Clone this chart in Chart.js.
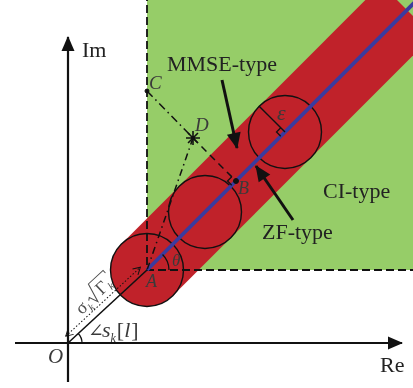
<!DOCTYPE html>
<html>
<head>
<meta charset="utf-8">
<script src="https://cdn.jsdelivr.net/npm/chart.js@4.4.0/dist/chart.umd.min.js"></script>
<style>
  html, body { margin: 0; padding: 0; background: #fff; }
  #wrap { width: 413px; height: 388px; position: relative; }
</style>
</head>
<body>
<div id="wrap"><canvas id="diagram"></canvas></div>
<script>
// complex plane with origin O, one unit = one pixel
var pointO = [0, 0];
var pointA = [79, 73];
var pointB = [168, 162];
var pointC = [79, 252];
var pointD = [125, 205];
var epsilon = 36.5;
var circleCenters = [[79, 73], [137, 131], [217, 211]];
var ciRegion = [[79, 73], [350, 73], [350, 350], [79, 350]];
var ciBoundary = [[79, 350], [79, 73], [350, 73]];
var redBand = [[53.2, 98.8], [313.2, 358.8], [364.8, 307.2], [104.8, 47.2]];
var zfLine = [[79, 73], [350, 344]];
var reAxis = [[-53, 0], [334, 0]];
var imAxis = [[0, -39], [0, 306]];
var mmseArrow = [[154, 263], [169, 195]];
var zfArrow = [[225, 123], [188, 177]];
var epsRadius = [[217, 211], [191.2, 236.8]];

var GREEN = '#96cd68', RED = '#c0222a', BLUE = '#3b3b9e', INK = '#111';

function xy(pts) { return pts.map(function(p) { return {x: p[0], y: p[1]}; }); }

function lineSet(label, pts, opts) {
  var ds = {label: label, type: 'line', data: xy(pts), borderColor: INK, borderWidth: 1.5,
    pointRadius: 0, fill: false, tension: 0};
  for (var k in opts) ds[k] = opts[k];
  return ds;
}

var texts = [
  {t: 'Im', p: [14, 286], f: '22px "Liberation Serif"', c: '#222'},
  {t: 'MMSE-type', p: [99, 272], f: '22px "Liberation Serif"', c: '#222'},
  {t: 'ZF-type', p: [194, 104], f: '22px "Liberation Serif"', c: '#222'},
  {t: 'CI-type', p: [255, 145], f: '22px "Liberation Serif"', c: '#222'},
  {t: 'Re', p: [312, -29], f: '22px "Liberation Serif"', c: '#222'},
  {t: 'O', p: [-20, -20], f: 'italic 21px "Liberation Serif"', c: '#3a3a3a'},
  {t: 'A', p: [78, 56], f: 'italic 18px "Liberation Serif"', c: '#3a3a3a'},
  {t: 'C', p: [81, 254], f: 'italic 19px "Liberation Serif"', c: '#3a3a3a'},
  {t: 'D', p: [127, 212], f: 'italic 19px "Liberation Serif"', c: '#3a3a3a'},
  {t: 'B', p: [170, 149], f: 'italic 18px "Liberation Serif"', c: '#3a3a3a'},
  {t: 'θ', p: [104, 77], f: 'italic 17px "Liberation Serif"', c: '#3a3a3a'},
  {t: 'ε', p: [209, 223], f: 'italic 22px "Liberation Serif"', c: '#3a3a3a'}
];

var decorations = {
  id: 'decorations',
  afterDatasetsDraw: function(chart) {
    var ctx = chart.ctx, sx = chart.scales.x, sy = chart.scales.y;
    function P(p) { return {x: sx.getPixelForValue(p[0]), y: sy.getPixelForValue(p[1])}; }

    // arrowheads
    chart.data.datasets.forEach(function(ds, i) {
      if (!ds.arrowHead) return;
      var pts = chart.getDatasetMeta(i).data;
      var a = pts[pts.length - 2], b = pts[pts.length - 1];
      var ang = Math.atan2(b.y - a.y, b.x - a.x);
      var len = ds.arrowHead[0], half = ds.arrowHead[1];
      ctx.save();
      ctx.translate(b.x, b.y); ctx.rotate(ang);
      ctx.fillStyle = INK;
      ctx.beginPath(); ctx.moveTo(1, 0); ctx.lineTo(-len, half); ctx.lineTo(-len, -half); ctx.closePath();
      ctx.fill();
      ctx.restore();
    });

    var O = P(pointO), A = P(pointA), B = P(pointB);
    var angOA = Math.atan2(A.y - O.y, A.x - O.x);
    var z1 = P(zfLine[0]), z2 = P(zfLine[1]);
    var angZF = Math.atan2(z2.y - z1.y, z2.x - z1.x);

    ctx.save();
    ctx.strokeStyle = INK; ctx.lineWidth = 1.3;
    // angle of s_k[l] at O
    ctx.beginPath(); ctx.arc(O.x, O.y, 14, angOA, 0); ctx.stroke();
    // theta at A
    ctx.beginPath(); ctx.arc(A.x, A.y, 22, angZF, 0); ctx.stroke();

    // right angle marks
    function rightAngle(f, u, v, s) {
      ctx.beginPath();
      ctx.moveTo(f.x + u.x * s, f.y + u.y * s);
      ctx.lineTo(f.x + (u.x + v.x) * s, f.y + (u.y + v.y) * s);
      ctx.lineTo(f.x + v.x * s, f.y + v.y * s);
      ctx.stroke();
    }
    var back = {x: -Math.cos(angZF), y: -Math.sin(angZF)};
    var up = {x: Math.sin(angZF), y: -Math.cos(angZF)};
    rightAngle(B, up, back, 6);
    rightAngle(P(epsRadius[0]), up, back, 6);

    // dotted double arrow parallel to OA
    var L = Math.hypot(A.x - O.x, A.y - O.y);
    ctx.translate(O.x, O.y); ctx.rotate(angOA);
    ctx.lineWidth = 1;
    ctx.setLineDash([1.5, 2]);
    ctx.beginPath(); ctx.moveTo(3, -6.5); ctx.lineTo(L - 3, -6.5); ctx.stroke();
    ctx.setLineDash([]);
    ctx.beginPath();
    ctx.moveTo(10, -10.5); ctx.lineTo(3, -6.5); ctx.lineTo(10, -2.5);
    ctx.moveTo(L - 10, -10.5); ctx.lineTo(L - 3, -6.5); ctx.lineTo(L - 10, -2.5);
    ctx.stroke();

    // sigma_k sqrt(Gamma_k) along OA
    ctx.fillStyle = '#4d4d4d'; ctx.strokeStyle = '#4d4d4d';
    ctx.font = '18px "Liberation Serif"';
    ctx.fillText('σ', 29, -11);
    ctx.font = 'italic 11px "Liberation Serif"';
    ctx.fillText('k', 39, -7);
    ctx.lineWidth = 1;
    ctx.beginPath();
    ctx.moveTo(44, -17); ctx.lineTo(46.5, -19); ctx.lineTo(50, -10); ctx.lineTo(55, -29.5);
    ctx.lineTo(75, -29.5); ctx.lineTo(75, -26);
    ctx.stroke();
    ctx.font = '18px "Liberation Serif"';
    ctx.fillText('Γ', 57, -12);
    ctx.font = 'italic 11px "Liberation Serif"';
    ctx.fillText('k', 68, -9);
    ctx.restore();

    // labels
    ctx.save();
    ctx.textBaseline = 'alphabetic';
    texts.forEach(function(l) {
      var p = P(l.p);
      ctx.font = l.f; ctx.fillStyle = l.c;
      ctx.fillText(l.t, p.x, p.y);
    });
    // angle label s_k[l]
    var q = P([20, 6]), x = q.x;
    ctx.fillStyle = '#3a3a3a';
    ctx.font = '19px "DejaVu Serif"';
    ctx.fillText('∠', x, q.y); x += ctx.measureText('∠').width - 2;
    ctx.font = 'italic 22px "Liberation Serif"';
    ctx.fillText('s', x, q.y); x += ctx.measureText('s').width;
    ctx.font = 'italic 12px "Liberation Serif"';
    ctx.fillText('k', x, q.y + 5); x += ctx.measureText('k').width + 1;
    ctx.font = '22px "Liberation Serif"';
    ctx.fillText('[', x, q.y); x += ctx.measureText('[').width;
    ctx.font = 'italic 22px "Liberation Serif"';
    ctx.fillText('l', x, q.y); x += ctx.measureText('l').width + 1;
    ctx.font = '22px "Liberation Serif"';
    ctx.fillText(']', x, q.y);
    ctx.restore();
  }
};

new Chart(document.getElementById('diagram'), {
  type: 'line',
  data: {
    datasets: [
      lineSet('CI-type', ciRegion, {borderWidth: 0, backgroundColor: GREEN, fill: 'shape', order: 30}),
      lineSet('band', redBand, {borderWidth: 0, backgroundColor: RED, fill: 'shape', order: 29}),
      {label: 'circle A', type: 'bubble', data: [{x: circleCenters[0][0], y: circleCenters[0][1], r: epsilon}],
        backgroundColor: RED, borderColor: INK, borderWidth: 1.4, order: 28},
      {label: 'circles', type: 'bubble',
        data: circleCenters.slice(1).map(function(c) { return {x: c[0], y: c[1], r: epsilon}; }),
        backgroundColor: 'rgba(0,0,0,0)', borderColor: INK, borderWidth: 1.4, order: 27},
      lineSet('CI boundary', ciBoundary, {borderWidth: 1.8, borderDash: [8, 4], order: 26}),
      lineSet('ZF', zfLine, {borderColor: BLUE, borderWidth: 3.8, order: 25}),
      lineSet('OA', [pointO, pointA], {borderWidth: 1.6, order: 24}),
      lineSet('CD', [pointC, pointD], {borderWidth: 1.5, borderDash: [8, 4, 1.5, 4], order: 23}),
      lineSet('DA', [pointD, pointA], {borderWidth: 1.5, borderDash: [7, 4, 1.5, 4], order: 22}),
      lineSet('DB', [pointD, pointB], {borderWidth: 1.5, borderDash: [7, 5], order: 21}),
      lineSet('eps', epsRadius, {borderWidth: 1.4, order: 20}),
      lineSet('Re', reAxis, {borderWidth: 2.2, arrowHead: [14, 6.5], order: 19}),
      lineSet('Im', imAxis, {borderWidth: 2.2, arrowHead: [14, 6.5], order: 18}),
      lineSet('MMSE arrow', mmseArrow, {borderWidth: 3, arrowHead: [15, 7], order: 17}),
      lineSet('ZF arrow', zfArrow, {borderWidth: 3, arrowHead: [15, 7], order: 16}),
      {label: 'points', type: 'scatter', data: xy([pointC, pointB, pointD]),
        pointStyle: ['circle', 'circle', 'star'], pointRadius: [2, 2.5, 7],
        backgroundColor: INK, borderColor: INK, borderWidth: [1, 1, 1.6], order: 1}
    ]
  },
  options: {
    responsive: true,
    maintainAspectRatio: false,
    animation: false,
    events: [],
    layout: {padding: 0, autoPadding: false},
    plugins: {legend: {display: false}, tooltip: {enabled: false}},
    scales: {
      x: {type: 'linear', min: -68, max: 345, display: false},
      y: {type: 'linear', min: -45, max: 343, display: false}
    }
  },
  plugins: [decorations]
});
</script>
</body>
</html>
